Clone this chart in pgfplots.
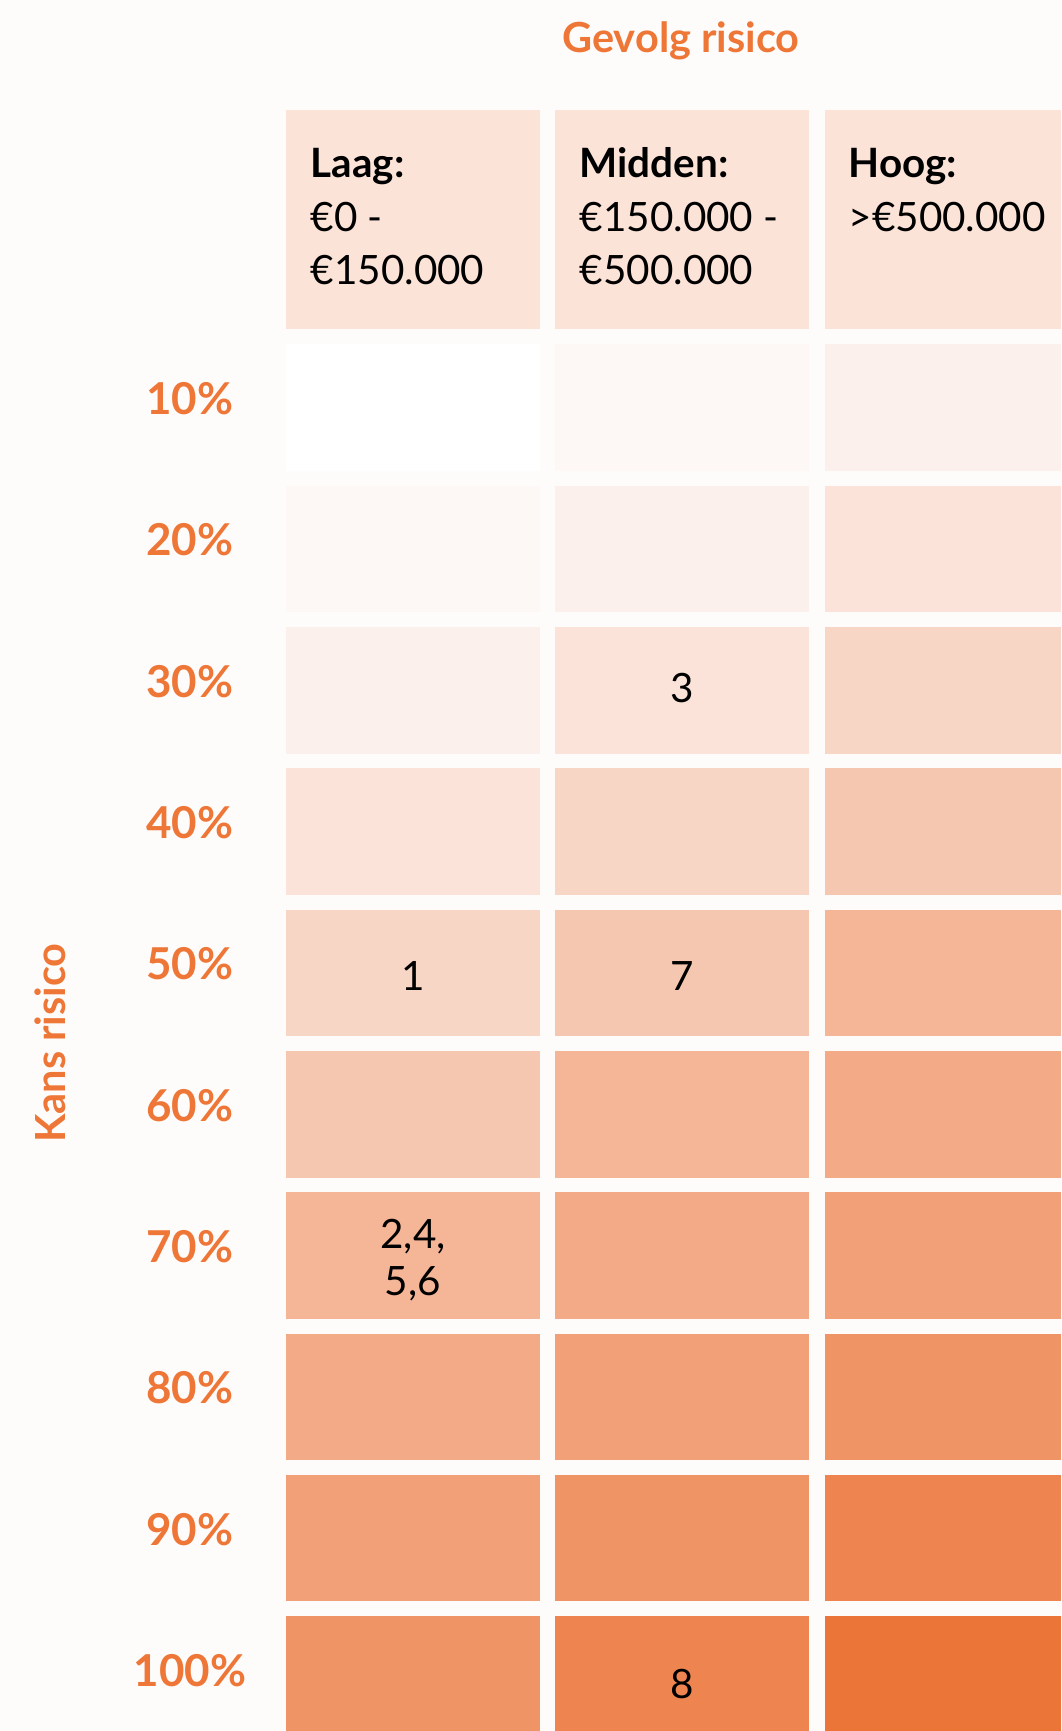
\documentclass[border=0pt]{standalone}
\usepackage{pgfplots}
\pgfplotsset{compat=1.18}
\usepackage{fontspec}
\setmainfont{Lato}
\definecolor{bgc}{HTML}{FDFCFA}
\definecolor{ora}{HTML}{EE7738}
\definecolor{hdr}{HTML}{FCE3D8}
\definecolor{L0}{HTML}{FFFFFF}
\definecolor{L1}{HTML}{FDF8F5}
\definecolor{L2}{HTML}{FBF0EB}
\definecolor{L3}{HTML}{FBE3D9}
\definecolor{L4}{HTML}{F8D6C6}
\definecolor{L5}{HTML}{F6C7B0}
\definecolor{L6}{HTML}{F5B698}
\definecolor{L7}{HTML}{F3AB87}
\definecolor{L8}{HTML}{F1A077}
\definecolor{L9}{HTML}{EF9465}
\definecolor{L10}{HTML}{EE8550}
\definecolor{L11}{HTML}{EB7538}
\newcommand{\cell}[5]{\addplot[fill=#5, draw=none] coordinates {(#1,#3) (#2,#3) (#2,#4) (#1,#4)};}
\newcommand{\lab}{\fontsize{11.5}{13}\selectfont\bfseries}
\newcommand{\rlab}{\fontsize{12.5}{14}\selectfont\bfseries}
\newcommand{\tlab}{\fontsize{11.8}{14}\selectfont\bfseries}
\newcommand{\txt}{\fontsize{11.5}{13}\selectfont}
\begin{document}
\begin{tikzpicture}
\useasboundingbox (0,0) rectangle (10.61cm,17.31cm);
\fill[bgc] (0,0) rectangle (10.61cm,17.31cm);
\begin{axis}[at={(0,0)}, anchor=south west, scale only axis,
  width=10.61cm, height=17.31cm,
  xmin=0, xmax=1061, ymin=0, ymax=1731, y dir=reverse,
  hide axis, clip=true]
% header
\cell{286}{540}{110}{329}{hdr}
\cell{555}{809}{110}{329}{hdr}
\cell{825}{1061}{110}{329}{hdr}
% row 10%
\cell{286}{540}{344.4}{470.9}{L0}
\cell{555}{809}{344.4}{470.9}{L1}
\cell{825}{1061}{344.4}{470.9}{L2}
% row 20%
\cell{286}{540}{485.8}{612.3}{L1}
\cell{555}{809}{485.8}{612.3}{L2}
\cell{825}{1061}{485.8}{612.3}{L3}
% row 30%
\cell{286}{540}{627.1}{753.6}{L2}
\cell{555}{809}{627.1}{753.6}{L3}
\cell{825}{1061}{627.1}{753.6}{L4}
% row 40%
\cell{286}{540}{768.4}{894.9}{L3}
\cell{555}{809}{768.4}{894.9}{L4}
\cell{825}{1061}{768.4}{894.9}{L5}
% row 50%
\cell{286}{540}{909.7}{1036.2}{L4}
\cell{555}{809}{909.7}{1036.2}{L5}
\cell{825}{1061}{909.7}{1036.2}{L6}
% row 60%
\cell{286}{540}{1051.0}{1177.5}{L5}
\cell{555}{809}{1051.0}{1177.5}{L6}
\cell{825}{1061}{1051.0}{1177.5}{L7}
% row 70%
\cell{286}{540}{1192.3}{1318.8}{L6}
\cell{555}{809}{1192.3}{1318.8}{L7}
\cell{825}{1061}{1192.3}{1318.8}{L8}
% row 80%
\cell{286}{540}{1333.6}{1460.1}{L7}
\cell{555}{809}{1333.6}{1460.1}{L8}
\cell{825}{1061}{1333.6}{1460.1}{L9}
% row 90%
\cell{286}{540}{1474.9}{1601.4}{L8}
\cell{555}{809}{1474.9}{1601.4}{L9}
\cell{825}{1061}{1474.9}{1601.4}{L10}
% row 100%
\cell{286}{540}{1616.3}{1731}{L9}
\cell{555}{809}{1616.3}{1731}{L10}
\cell{825}{1061}{1616.3}{1731}{L11}
% title and axis label
\node[font=\tlab, text=ora] at (axis cs:681,40.8) {Gevolg risico};
\node[font=\tlab, text=ora, rotate=90] at (axis cs:50,1043) {Kans risico};
% row labels
\node[font=\rlab, text=ora] at (axis cs:190,398.7) {10\%};
\node[font=\rlab, text=ora] at (axis cs:190,540.1) {20\%};
\node[font=\rlab, text=ora] at (axis cs:190,681.4) {30\%};
\node[font=\rlab, text=ora] at (axis cs:190,822.7) {40\%};
\node[font=\rlab, text=ora] at (axis cs:190,964.0) {50\%};
\node[font=\rlab, text=ora] at (axis cs:190,1105.3) {60\%};
\node[font=\rlab, text=ora] at (axis cs:190,1246.6) {70\%};
\node[font=\rlab, text=ora] at (axis cs:190,1387.9) {80\%};
\node[font=\rlab, text=ora] at (axis cs:190,1529.2) {90\%};
\node[font=\rlab, text=ora] at (axis cs:190,1670.6) {100\%};
% header texts
\node[font=\lab, anchor=base west, inner sep=0pt] at (axis cs:310,177) {Laag:};
\node[font=\txt, anchor=base west, inner sep=0pt] at (axis cs:310,231.8) {€0 -};
\node[font=\txt, anchor=base west, inner sep=0pt] at (axis cs:310,284.8) {€150.000};
\node[font=\lab, anchor=base west, inner sep=0pt] at (axis cs:579,177) {Midden:};
\node[font=\txt, anchor=base west, inner sep=0pt] at (axis cs:579,231.8) {€150.000 -};
\node[font=\txt, anchor=base west, inner sep=0pt] at (axis cs:579,284.8) {€500.000};
\node[font=\lab, anchor=base west, inner sep=0pt] at (axis cs:848,177) {Hoog:};
\node[font=\txt, anchor=base west, inner sep=0pt] at (axis cs:848,231.8) {>€500.000};
% cell entries
\node[font=\txt] at (axis cs:682,688) {3};
\node[font=\txt] at (axis cs:413,976) {1};
\node[font=\txt] at (axis cs:682,976) {7};
\node[font=\txt] at (axis cs:413,1237) {2,4,};
\node[font=\txt] at (axis cs:413,1284) {5,6};
\node[font=\txt] at (axis cs:682,1684) {8};
\end{axis}
\end{tikzpicture}
\end{document}
